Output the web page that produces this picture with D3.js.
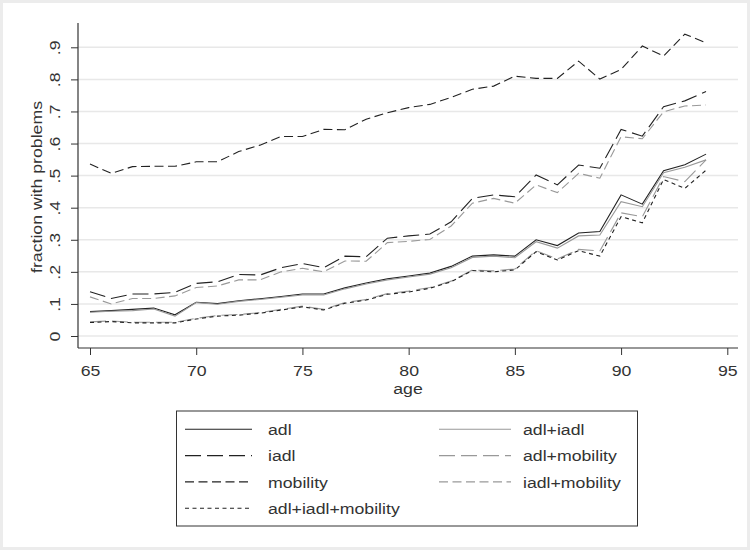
<!DOCTYPE html>
<html>
<head>
<meta charset="utf-8">
<script src="https://cdn.jsdelivr.net/npm/d3@7"></script>
<style>
  html, body { margin: 0; padding: 0; background: #ececec; }
  svg { display: block; }
  text { font-family: "Liberation Sans", Arial, sans-serif; fill: #333; }
</style>
</head>
<body>
<svg id="chart" width="750" height="550"></svg>
<script>
// Fraction of people with functional problems, by age
const ages = [65, 66, 67, 68, 69, 70, 71, 72, 73, 74, 75, 76, 77, 78, 79,
              80, 81, 82, 83, 84, 85, 86, 87, 88, 89, 90, 91, 92, 93, 94];

const adl = [0.076, 0.079, 0.083, 0.087, 0.066, 0.105, 0.101, 0.110, 0.116, 0.123,
             0.131, 0.131, 0.150, 0.165, 0.178, 0.187, 0.196, 0.217, 0.249, 0.253,
             0.249, 0.300, 0.282, 0.321, 0.326, 0.440, 0.411, 0.515, 0.534, 0.567];
const adlIadl = [0.074, 0.077, 0.079, 0.084, 0.062, 0.104, 0.099, 0.108, 0.114, 0.121,
                 0.128, 0.128, 0.147, 0.162, 0.175, 0.184, 0.193, 0.213, 0.245, 0.249,
                 0.244, 0.294, 0.274, 0.312, 0.315, 0.419, 0.403, 0.509, 0.526, 0.549];
const iadl = [0.138, 0.117, 0.131, 0.131, 0.136, 0.164, 0.169, 0.192, 0.190, 0.213,
              0.226, 0.213, 0.249, 0.247, 0.305, 0.312, 0.318, 0.356, 0.429, 0.440,
              0.434, 0.502, 0.471, 0.533, 0.523, 0.644, 0.623, 0.715, 0.733, 0.762];
const adlMobility = [0.044, 0.047, 0.043, 0.043, 0.043, 0.055, 0.064, 0.067, 0.073, 0.083,
                     0.093, 0.083, 0.104, 0.114, 0.132, 0.140, 0.151, 0.171, 0.206, 0.203,
                     0.209, 0.266, 0.240, 0.270, 0.265, 0.384, 0.372, 0.497, 0.481, 0.549];
const mobility = [0.536, 0.507, 0.528, 0.529, 0.529, 0.543, 0.543, 0.575, 0.595, 0.622,
                  0.622, 0.644, 0.643, 0.676, 0.696, 0.712, 0.722, 0.744, 0.769, 0.779,
                  0.810, 0.803, 0.803, 0.857, 0.801, 0.831, 0.904, 0.873, 0.941, 0.914];
const iadlMobility = [0.122, 0.100, 0.117, 0.117, 0.125, 0.151, 0.156, 0.175, 0.175, 0.200,
                      0.211, 0.200, 0.234, 0.233, 0.291, 0.295, 0.301, 0.343, 0.414, 0.429,
                      0.414, 0.471, 0.447, 0.507, 0.492, 0.621, 0.615, 0.699, 0.717, 0.720];
const adlIadlMobility = [0.042, 0.045, 0.041, 0.041, 0.041, 0.053, 0.062, 0.065, 0.071, 0.081,
                         0.091, 0.081, 0.102, 0.112, 0.130, 0.137, 0.149, 0.169, 0.204, 0.200,
                         0.206, 0.263, 0.237, 0.266, 0.249, 0.372, 0.353, 0.488, 0.460, 0.517];

const seriesNames = ["adl", "adl+iadl", "iadl", "adl+mobility", "mobility",
                     "iadl+mobility", "adl+iadl+mobility"];
const seriesValues = [adl, adlIadl, iadl, adlMobility, mobility, iadlMobility, adlIadlMobility];

const xTicks = [65, 70, 75, 80, 85, 90, 95];
const xTickLabels = ["65", "70", "75", "80", "85", "90", "95"];
const yTicks = [0, 0.1, 0.2, 0.3, 0.4, 0.5, 0.6, 0.7, 0.8, 0.9];
const yTickLabels = ["0", ".1", ".2", ".3", ".4", ".5", ".6", ".7", ".8", ".9"];
const xTitle = "age";
const yTitle = "fraction with problems";

// Monochrome line styles, one per series
const DARK = "#222", GREY = "#999";
const styles = [
  { color: DARK, dash: null },
  { color: GREY, dash: null },
  { color: DARK, dash: "16,6" },
  { color: GREY, dash: "16,6" },
  { color: DARK, dash: "9,4.5" },
  { color: GREY, dash: "9,4.5" },
  { color: DARK, dash: "4,3.5" }
];

const FONT = 15, STRETCH = 1.18;

const svg = d3.select("#chart");
svg.append("rect").attr("x", 3).attr("y", 3).attr("width", 744).attr("height", 544)
  .attr("fill", "#fff");

const plot = { left: 78, right: 738, top: 23, bottom: 348 };
const x = d3.scaleLinear().domain([65, 95]).range([90, 727.3]);
const y = d3.scaleLinear().domain([0, 0.9]).range([336, 47.3]);

// grid
svg.append("g").selectAll("line").data(yTicks).join("line")
  .attr("x1", plot.left).attr("x2", plot.right)
  .attr("y1", d => y(d)).attr("y2", d => y(d))
  .attr("stroke", "#e8e8e8").attr("stroke-width", 1.5);

// y axis
const yAxis = svg.append("g").attr("transform", `translate(${plot.left},0)`)
  .call(d3.axisLeft(y).tickValues(yTicks).tickSize(7)
    .tickFormat((d, i) => yTickLabels[i]));
yAxis.select(".domain").remove();
yAxis.selectAll(".tick line").attr("stroke", "#333");
yAxis.selectAll(".tick text")
  .attr("x", null).attr("dy", null).attr("y", null)
  .attr("text-anchor", "middle")
  .attr("fill", "#333")
  .style("font-size", FONT + "px")
  .attr("transform", `translate(-18,0) rotate(-90) scale(${STRETCH},1)`);
svg.append("line").attr("x1", plot.left).attr("x2", plot.left)
  .attr("y1", plot.top).attr("y2", plot.bottom)
  .attr("stroke", "#333").attr("stroke-width", 1.2);

// x axis
const xAxis = svg.append("g").attr("transform", `translate(0,${plot.bottom})`)
  .call(d3.axisBottom(x).tickValues(xTicks).tickSize(7)
    .tickFormat((d, i) => xTickLabels[i]));
xAxis.select(".domain").remove();
xAxis.selectAll(".tick line").attr("stroke", "#333");
xAxis.selectAll(".tick text")
  .attr("y", 28.3).attr("dy", null)
  .attr("fill", "#333")
  .style("font-size", FONT + "px")
  .attr("transform", `scale(${STRETCH},1)`);
svg.append("line").attr("x1", plot.left).attr("x2", plot.right)
  .attr("y1", plot.bottom).attr("y2", plot.bottom)
  .attr("stroke", "#333").attr("stroke-width", 1.2);

// axis titles
svg.append("text")
  .attr("transform", `translate(408,393.6) scale(${STRETCH},1)`)
  .attr("text-anchor", "middle").style("font-size", FONT + "px").text(xTitle);
svg.append("text")
  .attr("transform", `translate(42,187) rotate(-90) scale(${STRETCH},1)`)
  .attr("text-anchor", "middle").style("font-size", FONT + "px").text(yTitle);

// series
const line = d3.line().x((d, i) => x(ages[i])).y(d => y(d));
svg.append("g").selectAll("path").data(seriesValues).join("path")
  .attr("d", d => line(d))
  .attr("fill", "none")
  .attr("stroke", (d, i) => styles[i].color)
  .attr("stroke-width", 1.1)
  .attr("stroke-dasharray", (d, i) => styles[i].dash);

// legend: two columns, filled row by row
const legend = svg.append("g");
legend.append("rect").attr("x", 176.5).attr("y", 411).attr("width", 461).attr("height", 115)
  .attr("fill", "#fff").attr("stroke", "#333").attr("stroke-width", 1);
const colX = [185, 439], colLen = [67, 72], textX = [268, 523];
const rowY0 = 429.3, rowStep = 26.3;
seriesNames.forEach((name, i) => {
  const col = i % 2, row = Math.floor(i / 2);
  const cy = rowY0 + row * rowStep;
  legend.append("line")
    .attr("x1", colX[col]).attr("x2", colX[col] + colLen[col])
    .attr("y1", cy).attr("y2", cy)
    .attr("stroke", styles[i].color).attr("stroke-width", 1.1)
    .attr("stroke-dasharray", styles[i].dash);
  legend.append("text")
    .attr("transform", `translate(${textX[col]},${cy + 5.6}) scale(${STRETCH},1)`)
    .style("font-size", FONT + "px").text(name);
});
</script>
</body>
</html>
